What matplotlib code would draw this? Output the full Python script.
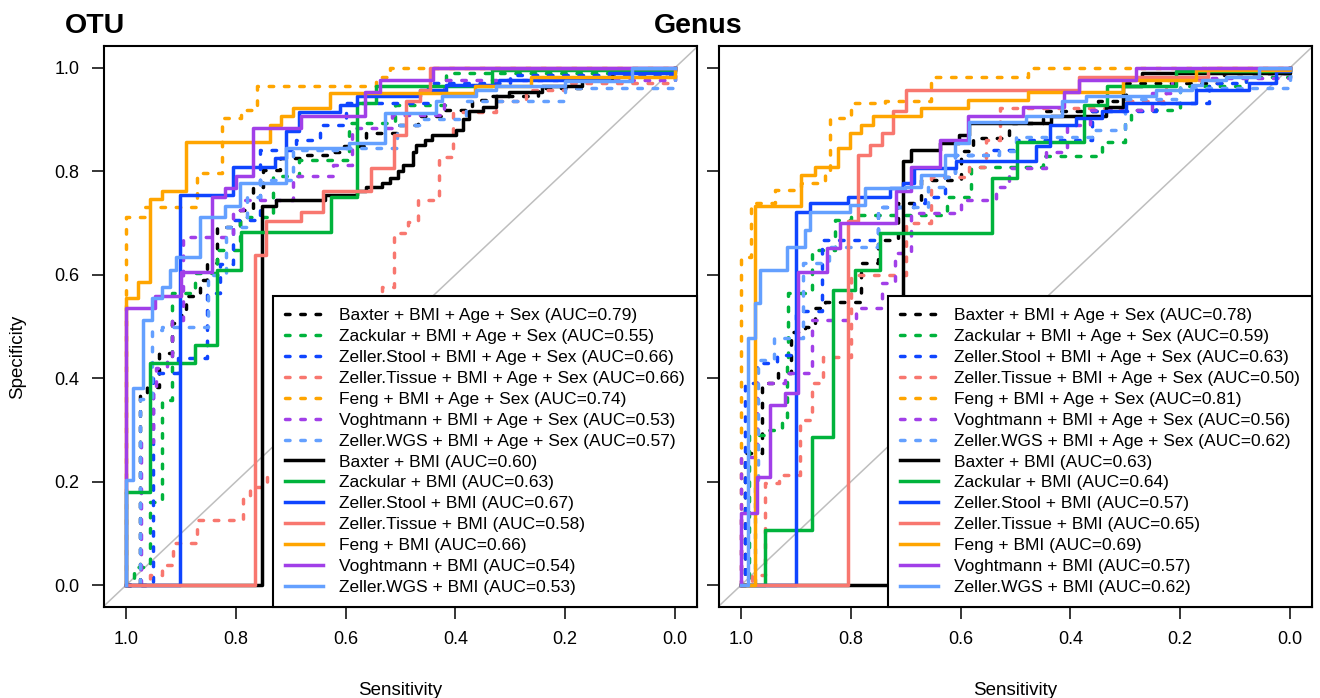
import matplotlib
matplotlib.use("Agg")
import matplotlib.pyplot as plt

plt.rcParams['font.family'] = ['Liberation Sans', 'DejaVu Sans']

datasets = ['Baxter', 'Zackular', 'Zeller.Stool', 'Zeller.Tissue', 'Feng', 'Voghtmann', 'Zeller.WGS']
colors = ['black', '#00B33C', '#0F45FF', '#F8776F', '#FFA500', '#A13FE8', '#64A0FF']

otu_auc_full = [0.79, 0.55, 0.66, 0.66, 0.74, 0.53, 0.57]
otu_auc_bmi = [0.60, 0.63, 0.67, 0.58, 0.66, 0.54, 0.53]
genus_auc_full = [0.78, 0.59, 0.63, 0.50, 0.81, 0.56, 0.62]
genus_auc_bmi = [0.63, 0.64, 0.57, 0.65, 0.69, 0.57, 0.62]

# ---- OTU, BMI + Age + Sex (sensitivity, specificity) ----
otu_baxter_full = ([1.0, 0.975, 0.975, 0.962, 0.94, 0.917, 0.90, 0.89, 0.865, 0.853, 0.835, 0.793, 0.769, 0.75, 0.72,
                    0.671, 0.623, 0.605, 0.562, 0.502, 0.469, 0.424, 0.399, 0.369, 0.344, 0.25, 0.17, 0.115, 0.0],
                   [0.0, 0.0, 0.37, 0.384, 0.449, 0.507, 0.522, 0.558, 0.59, 0.622, 0.693, 0.725, 0.770, 0.803, 0.826,
                    0.832, 0.838, 0.848, 0.874, 0.890, 0.906, 0.919, 0.919, 0.938, 0.945, 0.96, 0.977, 0.993, 1.0])
otu_zackular_full = ([1.0, 0.985, 0.956, 0.935, 0.917, 0.875, 0.835, 0.793, 0.733, 0.684, 0.593, 0.51, 0.417, 0.0],
                     [0.0, 0.035, 0.16, 0.358, 0.565, 0.603, 0.648, 0.712, 0.790, 0.822, 0.893, 0.928, 0.99, 1.0])
otu_zstool_full = ([1.0, 0.95, 0.905, 0.853, 0.829, 0.805, 0.756, 0.69, 0.647, 0.599, 0.45, 0.3, 0.0],
                   [0.0, 0.41, 0.439, 0.565, 0.62, 0.706, 0.841, 0.861, 0.89, 0.932, 0.971, 0.985, 1.0])
otu_ztissue_full = ([1.0, 0.956, 0.935, 0.914, 0.871, 0.787, 0.775, 0.744, 0.65, 0.56, 0.533, 0.511, 0.487, 0.469,
                     0.429, 0.405, 0.326, 0.271, 0.2, 0.0],
                    [0.0, 0.02, 0.04, 0.081, 0.126, 0.17, 0.19, 0.213, 0.3, 0.45, 0.577, 0.68, 0.702, 0.745,
                     0.828, 0.915, 0.935, 0.957, 0.97, 1.0])
otu_feng_full = ([1.0, 1.0, 0.965, 0.871, 0.826, 0.826, 0.79, 0.762, 0.545, 0.52, 0.0],
                 [0.0, 0.712, 0.73, 0.797, 0.826, 0.903, 0.919, 0.964, 0.983, 1.0, 1.0])
otu_voght_full = ([1.0, 0.972, 0.951, 0.945, 0.926, 0.917, 0.896, 0.805, 0.787, 0.696, 0.623, 0.589, 0.515, 0.42, 0.0],
                  [0.0, 0.277, 0.377, 0.42, 0.435, 0.513, 0.673, 0.725, 0.745, 0.79, 0.812, 0.884, 0.909, 0.977, 1.0])
otu_zwgs_full = ([1.0, 0.975, 0.953, 0.935, 0.85, 0.817, 0.78, 0.756, 0.696, 0.60, 0.507, 0.46, 0.38, 0.2, 0.0],
                 [0.0, 0.36, 0.493, 0.5, 0.6, 0.693, 0.751, 0.783, 0.841, 0.845, 0.89, 0.9, 0.935, 0.96, 1.0])

# ---- OTU, BMI only ----
otu_baxter_bmi = ([1.0, 0.753, 0.726, 0.638, 0.58, 0.562, 0.533, 0.52, 0.505, 0.496, 0.478, 0.471, 0.455, 0.442,
                   0.399, 0.387, 0.375, 0.35, 0.326, 0.302, 0.242, 0.169, 0.115, 0.0],
                  [0.0, 0.732, 0.745, 0.754, 0.761, 0.770, 0.778, 0.787, 0.80, 0.812, 0.838, 0.85, 0.86, 0.870,
                   0.88, 0.9, 0.916, 0.925, 0.945, 0.954, 0.964, 0.981, 0.993, 1.0])
otu_zackular_bmi = ([1.0, 1.0, 0.956, 0.875, 0.835, 0.79, 0.626, 0.58, 0.544, 0.333, 0.0],
                    [0.0, 0.18, 0.43, 0.464, 0.609, 0.683, 0.751, 0.932, 0.964, 0.995, 1.0])
otu_zstool_bmi = ([1.0, 0.902, 0.805, 0.729, 0.708, 0.684, 0.611, 0.58, 0.465, 0.417, 0.32, 0.12, 0.0],
                  [0.0, 0.754, 0.809, 0.826, 0.877, 0.915, 0.928, 0.945, 0.957, 0.967, 0.977, 0.99, 1.0])
otu_ztissue_bmi = ([1.0, 0.765, 0.745, 0.681, 0.642, 0.553, 0.511, 0.49, 0.465, 0.447, 0.0],
                   [0.0, 0.638, 0.703, 0.722, 0.761, 0.807, 0.87, 0.935, 0.957, 1.0, 1.0])
otu_feng_bmi = ([1.0, 1.0, 0.978, 0.956, 0.935, 0.890, 0.738, 0.717, 0.696, 0.629, 0.365, 0.262, 0.044, 0.0],
                [0.0, 0.555, 0.586, 0.747, 0.761, 0.857, 0.890, 0.906, 0.922, 0.951, 0.964, 0.983, 0.983, 1.0])
otu_voght_bmi = ([1.0, 1.0, 0.947, 0.899, 0.844, 0.82, 0.799, 0.769, 0.681, 0.565, 0.538, 0.441, 0.0],
                 [0.0, 0.535, 0.558, 0.606, 0.751, 0.768, 0.79, 0.883, 0.906, 0.954, 0.977, 1.0, 1.0])
otu_zwgs_bmi = ([1.0, 1.0, 0.987, 0.969, 0.953, 0.935, 0.92, 0.908, 0.865, 0.82, 0.793, 0.708, 0.593, 0.529, 0.435,
                 0.424, 0.362, 0.326, 0.2, 0.078, 0.0],
                [0.0, 0.203, 0.381, 0.513, 0.555, 0.577, 0.609, 0.635, 0.712, 0.732, 0.778, 0.845, 0.855, 0.912, 0.935,
                 0.945, 0.957, 0.964, 0.975, 1.0, 1.0])

# ---- Genus, BMI + Age + Sex ----
gen_baxter_full = ([1.0, 0.993, 0.962, 0.933, 0.908, 0.884, 0.865, 0.847, 0.781, 0.751, 0.714, 0.672, 0.60, 0.578,
                    0.511, 0.45, 0.35, 0.298, 0.12, 0.0],
                   [0.0, 0.255, 0.39, 0.41, 0.49, 0.5, 0.535, 0.548, 0.622, 0.667, 0.738, 0.783, 0.84, 0.865,
                    0.893, 0.916, 0.935, 0.971, 0.99, 1.0])
gen_zackular_full = ([1.0, 0.985, 0.956, 0.926, 0.917, 0.915, 0.871, 0.829, 0.80, 0.624, 0.581, 0.45, 0.342, 0.30,
                      0.289, 0.2, 0.08, 0.0],
                     [0.0, 0.29, 0.3, 0.323, 0.435, 0.565, 0.648, 0.706, 0.716, 0.751, 0.809, 0.83, 0.857, 0.893,
                      0.919, 0.964, 0.983, 1.0])
gen_zstool_full = ([1.0, 0.993, 0.971, 0.935, 0.90, 0.853, 0.853, 0.751, 0.684, 0.665, 0.629, 0.611, 0.542, 0.498,
                    0.36, 0.244, 0.147, 0.08, 0.0],
                   [0.0, 0.39, 0.43, 0.445, 0.529, 0.58, 0.667, 0.731, 0.738, 0.751, 0.789, 0.832, 0.841, 0.861,
                    0.916, 0.932, 0.971, 0.99, 1.0])
gen_ztissue_full = ([1.0, 0.98, 0.956, 0.93, 0.893, 0.871, 0.851, 0.80, 0.70, 0.653, 0.584, 0.553, 0.529, 0.30,
                     0.225, 0.129, 0.0],
                    [0.0, 0.02, 0.197, 0.213, 0.319, 0.39, 0.441, 0.6, 0.7, 0.789, 0.809, 0.861, 0.923, 0.935,
                     0.977, 0.99, 1.0])
gen_feng_full = ([1.0, 1.0, 0.981, 0.938, 0.89, 0.847, 0.838, 0.80, 0.738, 0.653, 0.653, 0.478, 0.0],
                 [0.0, 0.635, 0.738, 0.764, 0.778, 0.797, 0.903, 0.932, 0.935, 0.957, 0.983, 1.0, 1.0])
gen_voght_full = ([1.0, 1.0, 0.971, 0.92, 0.87, 0.79, 0.744, 0.72, 0.69, 0.60, 0.535, 0.511, 0.444, 0.407, 0.365,
                   0.251, 0.215, 0.0],
                  [0.0, 0.248, 0.39, 0.41, 0.513, 0.535, 0.584, 0.642, 0.72, 0.745, 0.770, 0.807, 0.838, 0.89, 0.919,
                   0.951, 0.981, 1.0])
gen_zwgs_full = ([1.0, 0.975, 0.969, 0.94, 0.887, 0.84, 0.751, 0.66, 0.629, 0.611, 0.53, 0.5, 0.36, 0.30, 0.2, 0.0],
                 [0.0, 0.2, 0.435, 0.478, 0.622, 0.654, 0.731, 0.77, 0.789, 0.832, 0.84, 0.867, 0.88, 0.94, 0.96, 1.0])

# ---- Genus, BMI only ----
gen_baxter_bmi = ([1.0, 0.705, 0.69, 0.638, 0.602, 0.584, 0.435, 0.335, 0.305, 0.269, 0.0],
                  [0.0, 0.819, 0.841, 0.855, 0.87, 0.893, 0.906, 0.925, 0.964, 0.99, 1.0])
gen_zackular_bmi = ([1.0, 0.956, 0.871, 0.832, 0.793, 0.747, 0.542, 0.498, 0.375, 0.333, 0.207, 0.0],
                    [0.0, 0.106, 0.287, 0.571, 0.609, 0.681, 0.787, 0.857, 0.928, 0.964, 0.993, 1.0])
gen_zstool_bmi = ([1.0, 0.9, 0.875, 0.805, 0.729, 0.705, 0.684, 0.608, 0.462, 0.438, 0.389, 0.342, 0.298, 0.171,
                   0.075, 0.026, 0.0],
                  [0.0, 0.722, 0.738, 0.751, 0.768, 0.778, 0.807, 0.819, 0.848, 0.89, 0.903, 0.916, 0.932, 0.957,
                   0.971, 0.993, 1.0])
gen_ztissue_bmi = ([1.0, 0.805, 0.787, 0.765, 0.744, 0.724, 0.699, 0.384, 0.15, 0.0],
                   [0.0, 0.703, 0.832, 0.851, 0.874, 0.916, 0.957, 0.983, 1.0, 1.0])
gen_feng_bmi = ([1.0, 0.975, 0.89, 0.865, 0.824, 0.802, 0.781, 0.76, 0.672, 0.587, 0.478, 0.305, 0.171, 0.0],
                [0.0, 0.732, 0.793, 0.809, 0.845, 0.874, 0.89, 0.906, 0.922, 0.938, 0.954, 0.977, 0.996, 1.0])
gen_voght_bmi = ([1.0, 1.0, 0.971, 0.947, 0.92, 0.896, 0.844, 0.82, 0.717, 0.69, 0.638, 0.587, 0.487, 0.411, 0.384,
                  0.28, 0.0],
                 [0.0, 0.139, 0.209, 0.348, 0.371, 0.606, 0.652, 0.70, 0.761, 0.809, 0.861, 0.906, 0.925, 0.954,
                  0.977, 1.0, 1.0])
gen_zwgs_bmi = ([1.0, 0.987, 0.975, 0.965, 0.917, 0.884, 0.875, 0.802, 0.775, 0.702, 0.672, 0.629, 0.611, 0.584,
                 0.48, 0.415, 0.371, 0.244, 0.178, 0.16, 0.116, 0.056, 0.0],
                [0.0, 0.478, 0.545, 0.609, 0.654, 0.687, 0.722, 0.735, 0.768, 0.770, 0.793, 0.832, 0.855, 0.896,
                 0.906, 0.935, 0.945, 0.957, 0.967, 0.977, 0.983, 1.0, 1.0])

otu_full = [otu_baxter_full, otu_zackular_full, otu_zstool_full, otu_ztissue_full, otu_feng_full, otu_voght_full,
            otu_zwgs_full]
otu_bmi = [otu_baxter_bmi, otu_zackular_bmi, otu_zstool_bmi, otu_ztissue_bmi, otu_feng_bmi, otu_voght_bmi,
           otu_zwgs_bmi]
gen_full = [gen_baxter_full, gen_zackular_full, gen_zstool_full, gen_ztissue_full, gen_feng_full, gen_voght_full,
            gen_zwgs_full]
gen_bmi = [gen_baxter_bmi, gen_zackular_bmi, gen_zstool_bmi, gen_ztissue_bmi, gen_feng_bmi, gen_voght_bmi,
           gen_zwgs_bmi]

fig = plt.figure(figsize=(13.2, 6.98), dpi=100)
W, H = 1320, 698
ax1 = fig.add_axes([104 / W, 1 - 607 / H, 593 / W, 561 / H])
ax2 = fig.add_axes([719 / W, 1 - 607 / H, 593 / W, 561 / H])


def draw_panel(ax, full, bmi, auc_full, auc_bmi, show_ylabels):
    ax.axline((1, 0), (0, 1), color='#BEBEBE', lw=1.1, zorder=1)
    for i, (sens, spec) in enumerate(full):
        ax.plot(sens, spec, drawstyle='steps-post', color=colors[i], lw=2.5, linestyle=(0, (1.3, 3.1)),
                dash_capstyle='round', label=f"{datasets[i]} + BMI + Age + Sex (AUC={auc_full[i]:.2f})", zorder=2)
    for i, (sens, spec) in enumerate(bmi):
        ax.plot(sens, spec, drawstyle='steps-post', color=colors[i], lw=2.5,
                label=f"{datasets[i]} + BMI (AUC={auc_bmi[i]:.2f})", zorder=3)
    ax.set_xlim(1.04, -0.04)
    ax.set_ylim(-0.042, 1.042)
    ax.set_xticks([1.0, 0.8, 0.6, 0.4, 0.2, 0.0])
    ax.set_yticks([0.0, 0.2, 0.4, 0.6, 0.8, 1.0])
    ax.xaxis.set_major_formatter(matplotlib.ticker.FormatStrFormatter('%.1f'))
    ax.yaxis.set_major_formatter(matplotlib.ticker.FormatStrFormatter('%.1f'))
    ax.tick_params(axis='x', length=8.5, width=1.1, labelsize=13, pad=9)
    ax.tick_params(axis='y', length=8.5, width=1.1, labelsize=13, pad=9, labelleft=show_ylabels)
    for s in ax.spines.values():
        s.set_linewidth(1.5)
    ax.set_xlabel("Sensitivity", fontsize=13.5, labelpad=24)
    leg = ax.legend(loc='lower right', bbox_to_anchor=(1.0, 0.0), borderaxespad=0, fontsize=12.5,
                    frameon=True, fancybox=False, edgecolor='black', framealpha=1, labelspacing=0.33,
                    handlelength=2.2, handletextpad=0.9, borderpad=0.7)
    leg.get_frame().set_linewidth(1.5)
    leg.set_zorder(5)


draw_panel(ax1, otu_full, otu_bmi, otu_auc_full, otu_auc_bmi, True)
draw_panel(ax2, gen_full, gen_bmi, genus_auc_full, genus_auc_bmi, False)

fig.text(65 / W, 1 - 33 / H, "OTU", fontsize=20.5, fontweight='bold', ha='left', va='baseline')
fig.text(654 / W, 1 - 33 / H, "Genus", fontsize=20.5, fontweight='bold', ha='left', va='baseline')
fig.text(18 / W, 1 - 357 / H, "Specificity", fontsize=13.5, rotation=90, ha='center', va='center')

fig.savefig("out.png", dpi=100)
